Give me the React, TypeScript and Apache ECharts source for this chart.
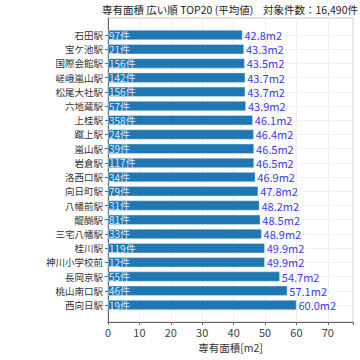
import React, { useEffect, useRef } from "react";
import * as echarts from "echarts";

const stations = ["石田駅", "宝ケ池駅", "国際会館駅", "嵯峨嵐山駅", "松尾大社駅", "六地蔵駅", "上桂駅", "蹴上駅", "嵐山駅", "岩倉駅", "洛西口駅", "向日町駅", "八幡前駅", "醍醐駅", "三宅八幡駅", "桂川駅", "神川小学校前", "長岡京駅", "桃山南口駅", "西向日駅"];
const counts = [97, 21, 156, 142, 156, 57, 358, 24, 39, 117, 34, 79, 31, 81, 33, 119, 12, 55, 46, 19];
const areas = [42.8, 43.3, 43.5, 43.7, 43.7, 43.9, 46.1, 46.4, 46.5, 46.5, 46.9, 47.8, 48.2, 48.5, 48.9, 49.9, 49.9, 54.7, 57.1, 60.0];
const titleMain = "専有面積 広い順 TOP20 (平均値)";
const titleSub = "対象件数：16,490件";
const xName = "専有面積[m2]";

const FONT = "'Noto Sans CJK JP', 'Noto Sans', sans-serif";

export default function App() {
  const ref = useRef<HTMLDivElement>(null);
  useEffect(() => {
    if (!ref.current) return;
    const chart = echarts.init(ref.current, null, { renderer: "svg" });
    const L = 108, R = 7;
    chart.setOption({
      animation: false,
      textStyle: { fontFamily: FONT },
      graphic: [
        { type: "text", left: 102, top: 4, style: { text: titleMain, font: `10.5px ${FONT}`, fill: "#222" } },
        { type: "text", right: 2, top: 4, style: { text: titleSub, font: `10.5px ${FONT}`, fill: "#222" } },
      ],
      grid: [
        { left: L, right: R, top: 18, bottom: 38, show: true, borderColor: "#c8c8c8", borderWidth: 1, backgroundColor: "transparent" },
        { left: L, right: R, top: 35, bottom: 55 },
      ],
      xAxis: [
        {
          gridIndex: 0, type: "value", min: 0, max: 78, interval: 10,
          name: xName, nameLocation: "middle", nameGap: 20,
          nameTextStyle: { fontSize: 10.5, color: "#333", fontFamily: FONT },
          axisLine: { show: true, lineStyle: { color: "#666" } },
          axisTick: { show: true, length: 3, lineStyle: { color: "#666" } },
          axisLabel: { fontSize: 11, color: "#444", margin: 4, fontFamily: FONT, formatter: (v: number) => (v > 70 ? "" : String(v)) },
          splitLine: { show: true, lineStyle: { color: "#f0f0f0" } },
        },
        { gridIndex: 1, type: "value", min: 0, max: 78, show: false },
      ],
      yAxis: [
        {
          gridIndex: 0, type: "value", min: 0, max: 1,
          axisLine: { show: true, lineStyle: { color: "#666" } },
          axisTick: { show: false }, axisLabel: { show: false }, splitLine: { show: false },
        },
        {
          gridIndex: 1, type: "category", data: stations, inverse: true, boundaryGap: false,
          axisLine: { show: false },
          axisTick: { show: true, length: 3, lineStyle: { color: "#666" } },
          axisLabel: { fontSize: 9.5, lineHeight: 12, color: "#333", margin: 5, fontFamily: FONT },
          splitLine: { show: true, lineStyle: { color: "#f2f2f2" } },
        },
      ],
      series: [
        {
          type: "bar", xAxisIndex: 1, yAxisIndex: 1, barWidth: 10,
          data: areas,
          itemStyle: { color: "#1f77b4", borderColor: "#d6e4f0", borderWidth: 0.5 },
          label: {
            show: true, position: "insideLeft", distance: 1,
            formatter: (p: any) => `${counts[p.dataIndex]}件`,
            color: "#dce8ff", fontSize: 10, lineHeight: 12, fontFamily: FONT,
          },
          z: 3,
        },
        {
          type: "bar", xAxisIndex: 1, yAxisIndex: 1, barWidth: 10, barGap: "-100%",
          data: areas,
          itemStyle: { color: "transparent" },
          label: {
            show: true, position: "right", distance: 2,
            formatter: (p: any) => `${Number(p.value).toFixed(1)}m2`,
            color: "#3a3aff", fontSize: 11, lineHeight: 13, fontFamily: FONT,
          },
          z: 4,
        },
      ],
    });
    return () => chart.dispose();
  }, []);
  return <div ref={ref} style={{ width: 360, height: 360, position: "absolute", left: 0, top: 0, background: "#fff" }} />;
}
